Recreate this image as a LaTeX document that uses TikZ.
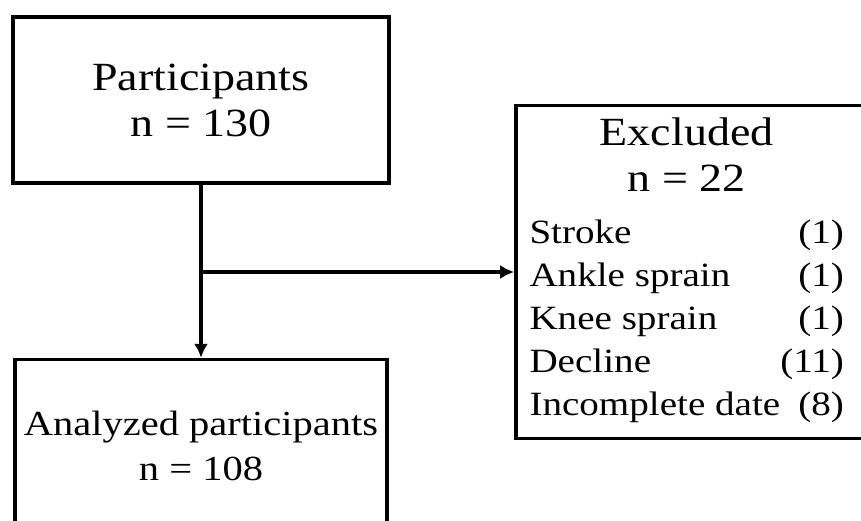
\documentclass[tikz,border=0pt]{standalone}
\usepackage{fontspec}
\setmainfont{Liberation Serif}[FakeStretch=1.15]
\usetikzlibrary{positioning, arrows.meta}

\begin{document}
\begin{tikzpicture}[
        x=0.5pt, y=0.5pt,
        box/.style = {draw, black, line width=1.8pt, inner sep=0pt},
        arrow/.style = {line width=1.7pt, -{Latex[length=7pt, width=7pt]}}
    ]
        \useasboundingbox (0,0) rectangle (861,520);
        \clip (0,0) rectangle (861,520);

        \node[box, align=center, minimum width=188pt, minimum height=83pt,
              font=\fontsize{20}{23}\selectfont] (parts) at (201,420) {Participants\\n = 130};

        \node[box, align=center, minimum width=186pt, minimum height=86.5pt, below=86.5pt of parts,
              font=\fontsize{17.6}{22.5}\selectfont] (anal) {Analyzed participants\\n = 108};

        \node[box, minimum width=176pt, minimum height=166.5pt,
              font=\fontsize{17}{21.5}\selectfont] (excl) at (692,248) {%
            \begin{tabular*}{156.5pt}{@{}l@{\extracolsep{\fill}}r@{}}
                \multicolumn{2}{c}{\fontsize{20}{21}\selectfont Excluded}\\[1.5pt]
                \multicolumn{2}{c}{\fontsize{20}{21}\selectfont n = 22}\\[4.5pt]
                Stroke & (1)\\
                Ankle sprain & (1)\\
                Knee sprain & (1)\\
                Decline & (11)\\
                Incomplete date & (8)
            \end{tabular*}\hspace*{6pt}};

        \coordinate (split) at (parts.south |- excl.west);

        \draw[arrow] (parts.south) -- (anal.north);
        \draw[arrow] (split) -- (excl.west);

\end{tikzpicture}
\end{document}
